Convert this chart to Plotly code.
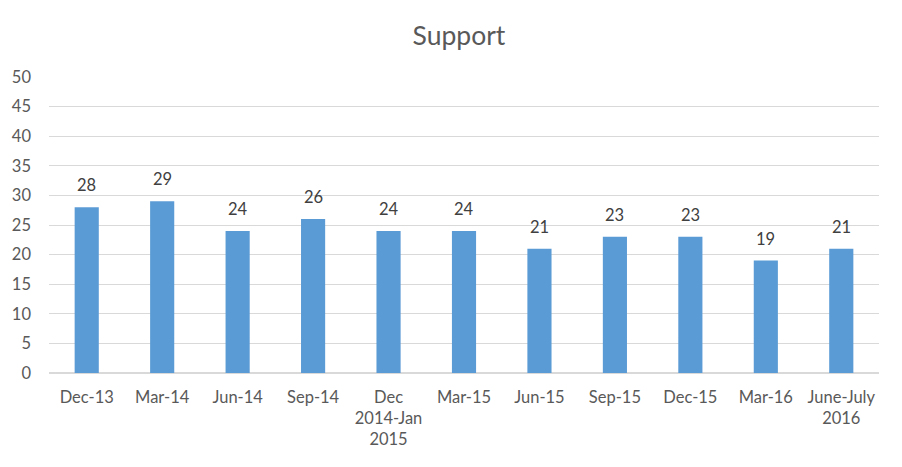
import plotly.graph_objects as go

categories = ["Dec-13", "Mar-14", "Jun-14", "Sep-14", "Dec<br>2014-Jan<br>2015", "Mar-15",
              "Jun-15", "Sep-15", "Dec-15", "Mar-16", "June-July<br>2016"]
values = [28, 29, 24, 26, 24, 24, 21, 23, 23, 19, 21]
y_ticks = [0, 5, 10, 15, 20, 25, 30, 35, 40, 45, 50]

FONT = "Lato, Carlito, Calibri, sans-serif"

fig = go.Figure(go.Bar(
    x=categories, y=values,
    marker=dict(color="#5B9BD5", line=dict(width=0)),
    hoverinfo="x+y",
))

for c, v in zip(categories, values):
    fig.add_annotation(x=c, y=v, text=str(v), showarrow=False, yanchor="bottom",
                       yshift=10, font=dict(family=FONT, size=16.5, color="#404040"))

fig.update_layout(
    width=902, height=467,
    margin=dict(l=41, r=31, t=69, b=102, autoexpand=False),
    paper_bgcolor="white", plot_bgcolor="white",
    title=dict(text="Support", x=0.5, xanchor="center", y=0.94, yanchor="middle",
               font=dict(family=FONT, size=26.5, color="#595959")),
    bargap=0.68,
    showlegend=False,
    font=dict(family=FONT, size=16, color="#595959"),
)
fig.update_xaxes(showgrid=False, showline=False, ticks="", automargin=False, ticklabelstandoff=12,
                 tickfont=dict(family=FONT, size=16.5, color="#595959"))
fig.update_yaxes(range=[0, 50], tickvals=y_ticks, showgrid=True, gridcolor="#D9D9D9", gridwidth=1,
                 zeroline=True, zerolinecolor="#D9D9D9", zerolinewidth=1.5,
                 ticks="", ticklabelstandoff=17, automargin=False,
                 tickfont=dict(family=FONT, size=16.5, color="#595959"))

fig.write_html("out.html")
